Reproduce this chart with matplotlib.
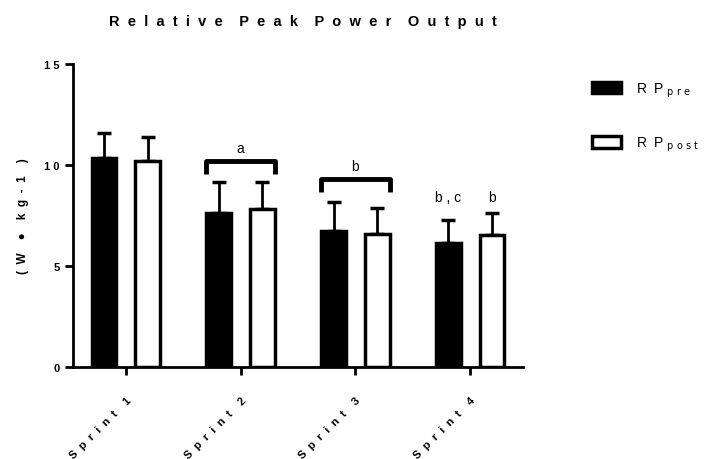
import matplotlib
matplotlib.use("Agg")
import matplotlib.pyplot as plt
import numpy as np
from matplotlib.patches import Patch

plt.rcParams['font.family'] = ['Liberation Sans', 'DejaVu Sans']

# donnees
sprints = ["S  p  r  i  n  t    1", "S  p  r  i  n  t    2", "S  p  r  i  n  t    3", "S  p  r  i  n  t    4"]
rp_pre = [10.35, 7.62, 6.73, 6.14]
rp_pre_sd = [1.25, 1.52, 1.45, 1.14]
rp_post = [10.2, 7.82, 6.57, 6.55]
rp_post_sd = [1.17, 1.32, 1.28, 1.05]
yticks = [0, 5, 10, 15]
ytick_labels = ["0", "5", "1 0", "1 5"]

# annotations : (groupe, hauteur, texte)
brackets = [(1, 10.2, "a"), (2, 9.3, "b")]
single_labels = [(3, -0.19, 8.05, "b , c"), (3, 0.19, 8.05, "b")]

fig = plt.figure(figsize=(7.07, 4.6), dpi=100)
ax = fig.add_axes([73/707, 1-368/460, (523-73)/707, (368-65)/460])

x = np.arange(len(sprints))
off = 0.19
w = 0.215
ax.bar(x - off, rp_pre, w, color='black', edgecolor='black', linewidth=2.5, zorder=2)
ax.bar(x + off, rp_post, w, color='white', edgecolor='black', linewidth=2.5, zorder=2)
ax.errorbar(x - off, rp_pre, yerr=[np.zeros(4), rp_pre_sd], fmt='none', ecolor='black',
            elinewidth=2, capsize=5, capthick=2.5, zorder=1)
ax.errorbar(x + off, rp_post, yerr=[np.zeros(4), rp_post_sd], fmt='none', ecolor='black',
            elinewidth=2, capsize=5, capthick=2.5, zorder=1)

for g, h, t in brackets:
    xl, xr = g - 0.30, g + 0.30
    ax.plot([xl, xl, xr, xr], [h - 0.65, h, h, h - 0.65], color='black', lw=3.5,
            solid_joinstyle='round', solid_capstyle='butt')
    ax.text(g, h + 0.3, t, ha='center', va='bottom', fontsize=10)

for g, dx, h, t in single_labels:
    ax.text(g + dx, h, t, ha='center', va='bottom', fontsize=10)

ax.set_xlim(-0.46, 3.46)
ax.set_ylim(0, 15)
ax.set_yticks(yticks)
ax.set_yticklabels(ytick_labels, fontsize=8, fontweight='bold')
ax.set_xticks(x)
ax.set_xticklabels(sprints, rotation=45, ha='right', rotation_mode='anchor',
                   fontsize=8, fontweight='bold')
ax.tick_params(axis='both', width=2, length=6, direction='out')
ax.tick_params(axis='x', pad=14)
for s in ['top', 'right']:
    ax.spines[s].set_visible(False)
for s in ['left', 'bottom']:
    ax.spines[s].set_linewidth(2)

ax.set_ylabel("(  W    \u25cf    k  g  -  1    )", fontsize=8.5, fontweight='bold', labelpad=11)
fig.text(303/707, 1-22/460,
         "R  e  l  a  t  i  v  e    P  e  a  k    P  o  w  e  r    O  u  t  p  u  t",
         ha='center', va='center', fontsize=10.5, fontweight='bold')

handles = [Patch(facecolor='black', edgecolor='black', linewidth=2.5),
           Patch(facecolor='white', edgecolor='black', linewidth=2.5)]
labels = [r"R  P $_{\mathrm{p\ r\ e}}$", r"R  P $_{\mathrm{p\ o\ s\ t}}$"]
fig.legend(handles, labels, loc='upper left', bbox_to_anchor=(579/707, 1-69/460),
           frameon=False, fontsize=10, handlelength=2.1, handleheight=0.9,
           labelspacing=2.6, handletextpad=1.1)

fig.savefig("out.png", dpi=100)
